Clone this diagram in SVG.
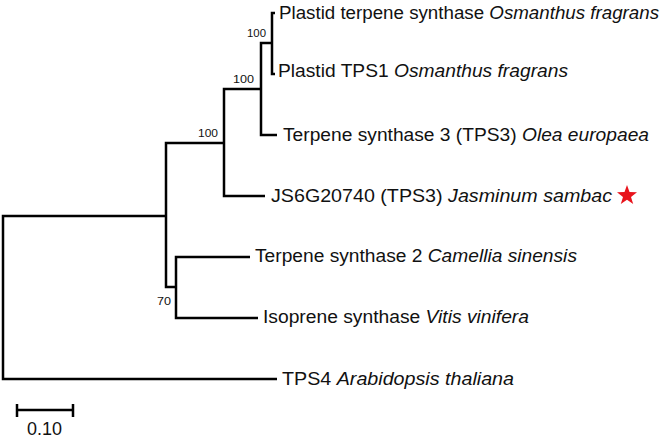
<svg xmlns="http://www.w3.org/2000/svg" width="661" height="438" viewBox="0 0 661 438">
<style>
.br{fill:none;stroke:#000;stroke-width:2.5;stroke-linejoin:miter;stroke-linecap:butt}
.lb{font-family:"Liberation Sans",Arial,sans-serif;font-size:17.5px;fill:#111}
.bs{font-family:"Liberation Sans",Arial,sans-serif;font-size:11.5px;fill:#111}
.it{font-style:italic}
</style>
<rect width="661" height="438" fill="#fff"/>
<g id="connectors">
<path class="br" d="M275,13 H272 V74 H275"/>
<path class="br" d="M272,43 H261 V135 H277"/>
<path class="br" d="M261,89 H224 V196 H265"/>
<path class="br" d="M250,257 H176 V318 H258"/>
<path class="br" d="M224,143 H166 V287 H176"/>
<path class="br" d="M166,216 H3 V379 H277"/>
</g>
<g id="leaf-osmanthus-plastid-tps"><text class="lb" x="279" y="19" textLength="380" lengthAdjust="spacingAndGlyphs">Plastid terpene synthase <tspan class="it">Osmanthus fragrans</tspan></text></g>
<g id="leaf-osmanthus-tps1"><text class="lb" x="278" y="77" textLength="290" lengthAdjust="spacingAndGlyphs">Plastid TPS1 <tspan class="it">Osmanthus fragrans</tspan></text></g>
<g id="leaf-olea"><text class="lb" x="283" y="141" textLength="366" lengthAdjust="spacingAndGlyphs">Terpene synthase 3 (TPS3) <tspan class="it">Olea europaea</tspan></text></g>
<g id="leaf-jasminum"><text class="lb" x="271" y="202" textLength="341" lengthAdjust="spacingAndGlyphs">JS6G20740 (TPS3) <tspan class="it">Jasminum sambac</tspan></text>
<polygon fill="#e8141c" points="627,185 629.5,192.1 637,192.3 631.0,196.9 633.2,204.1 627,199.8 620.8,204.1 623.0,196.9 617,192.3 624.5,192.1"/></g>
<g id="leaf-camellia"><text class="lb" x="255" y="262" textLength="322" lengthAdjust="spacingAndGlyphs">Terpene synthase 2 <tspan class="it">Camellia sinensis</tspan></text></g>
<g id="leaf-vitis"><text class="lb" x="263" y="323" textLength="266" lengthAdjust="spacingAndGlyphs">Isoprene synthase  <tspan class="it">Vitis vinifera</tspan></text></g>
<g id="leaf-arabidopsis"><text class="lb" x="282" y="385" textLength="232" lengthAdjust="spacingAndGlyphs">TPS4 <tspan class="it">Arabidopsis thaliana</tspan></text></g>
<g id="bootstrap">
<text class="bs" x="247" y="37" textLength="19" lengthAdjust="spacingAndGlyphs">100</text>
<text class="bs" x="233" y="83" textLength="21" lengthAdjust="spacingAndGlyphs">100</text>
<text class="bs" x="198" y="137" textLength="20" lengthAdjust="spacingAndGlyphs">100</text>
<text class="bs" x="157" y="305" textLength="14" lengthAdjust="spacingAndGlyphs">70</text>
</g>
<g id="scale-bar">
<path class="br" d="M17,410 H73 M17,404 V417 M73,404 V417"/>
<text class="lb" x="27" y="435" font-size="16" textLength="35" lengthAdjust="spacingAndGlyphs">0.10</text>
</g>
</svg>
